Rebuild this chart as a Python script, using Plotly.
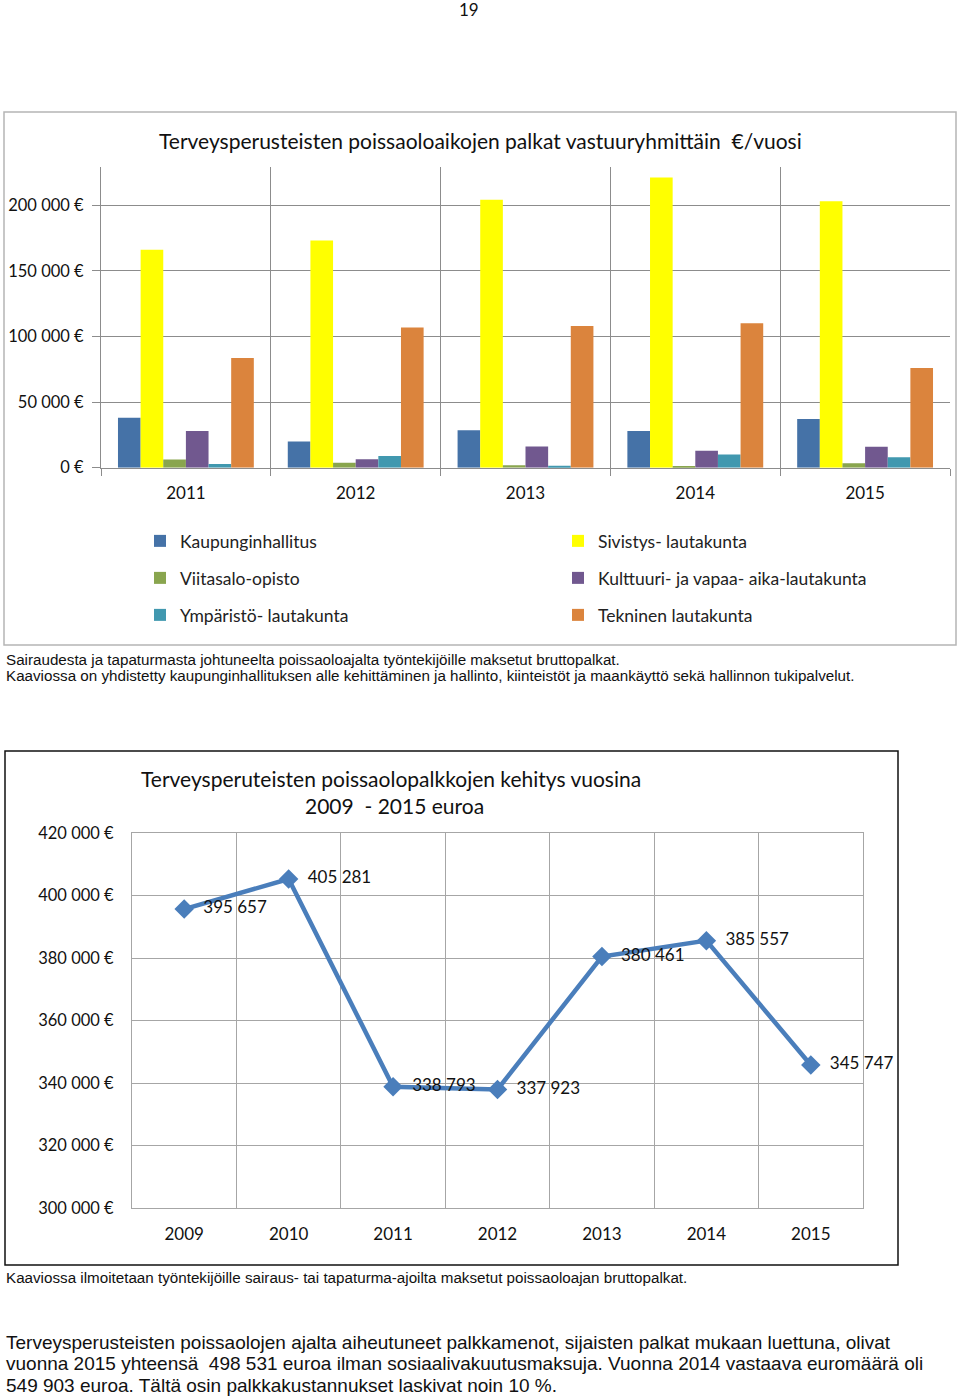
import plotly.graph_objects as go

W, H = 960, 1396

# ---- data: chart 1 ----
years_bar = ["2011", "2012", "2013", "2014", "2015"]
series_names = ["Kaupunginhallitus", "Sivistys- lautakunta", "Viitasalo-opisto",
                "Kulttuuri- ja vapaa- aika-lautakunta", "Ympäristö- lautakunta",
                "Tekninen lautakunta"]
kaupunginhallitus = [38000, 20000, 28500, 28000, 37000]
sivistys = [166000, 173000, 204000, 221000, 203000]
viitasalo = [6300, 3800, 1800, 1300, 3300]
kulttuuri = [28000, 6400, 16200, 13000, 16000]
ymparisto = [2800, 9000, 1500, 10000, 8000]
tekninen = [83500, 106700, 108000, 110000, 76000]
bar_series = [kaupunginhallitus, sivistys, viitasalo, kulttuuri, ymparisto, tekninen]
bar_colors = ["#4572A7", "#FFFF00", "#89A54E", "#71588F", "#4198AF", "#DB843D"]
legend_ids = ["legend", "legend", "legend2", "legend2", "legend3", "legend3"]
bar_ticks = [0, 50000, 100000, 150000, 200000]

# ---- data: chart 2 ----
years_line = ["2009", "2010", "2011", "2012", "2013", "2014", "2015"]
palkat = [395657, 405281, 338793, 337923, 380461, 385557, 345747]
line_ticks = [300000, 320000, 340000, 360000, 380000, 400000, 420000]

FONT = "Lato, Open Sans, sans-serif"
NARROW = "Liberation Sans Narrow, Liberation Sans, Arial, sans-serif"


def eur(v):
    return f"{v:,}".replace(",", " ") + " €"


def px_x(p):
    return p / W


def px_y(p):
    return 1 - p / H


fig = go.Figure()

for name, vals, col, lg in zip(series_names, bar_series, bar_colors, legend_ids):
    fig.add_trace(go.Bar(x=years_bar, y=vals, name=name, marker_color=col,
                         marker_line_width=0, xaxis="x", yaxis="y", legend=lg))

fig.add_trace(go.Scatter(
    x=years_line, y=palkat, mode="lines+markers+text", xaxis="x2", yaxis="y2",
    line=dict(color="#4A7EBB", width=4.5),
    marker=dict(symbol="diamond", size=15, color="#4A7EBB"),
    texttemplate="\u00a0\u00a0%{y:,.0f}", textposition="middle right",
    textfont=dict(family=FONT, size=17, color="#111"),
    showlegend=False, cliponaxis=False))

grid1 = "#8c8c8c"
grid2 = "#a6a6a6"

leg_common = dict(orientation="h", xanchor="left", yanchor="middle",
                  entrywidth=373, entrywidthmode="pixels",
                  font=dict(family=FONT, size=17.5, color="#222"),
                  bgcolor="rgba(0,0,0,0)", x=px_x(140))

fig.update_layout(
    width=W, height=H, margin=dict(l=0, r=0, t=0, b=0, autoexpand=False),
    paper_bgcolor="white", plot_bgcolor="white",
    separators=", ",
    barmode="group", bargap=0.2, bargroupgap=0,
    font=dict(family=FONT, color="#111"),
    legend=dict(leg_common, y=px_y(541)),
    legend2=dict(leg_common, y=px_y(578)),
    legend3=dict(leg_common, y=px_y(615)),
    xaxis=dict(domain=[px_x(101), px_x(950)], type="category",
               range=[-0.5, len(years_bar) - 0.5],
               tickson="boundaries", ticks="outside", ticklen=7, tickcolor=grid1,
               showgrid=True, gridcolor=grid1, gridwidth=1,
               showline=True, linecolor=grid1, linewidth=1,
               tickfont=dict(family=FONT, size=17, color="#111"),
               ticklabelstandoff=10, anchor="y"),
    yaxis=dict(domain=[px_y(467.7), px_y(167)], range=[0, 229000],
               tickvals=bar_ticks, ticktext=[eur(v) for v in bar_ticks],
               ticks="outside", ticklen=8, tickcolor=grid1,
               showgrid=True, gridcolor=grid1, gridwidth=1,
               showline=True, linecolor=grid1, zeroline=False,
               tickfont=dict(family=FONT, size=16.5, color="#111"),
               ticklabelstandoff=5, anchor="x"),
    xaxis2=dict(domain=[px_x(132), px_x(863)], type="category",
                range=[-0.5, len(years_line) - 0.5],
                tickson="boundaries", ticks="",
                showgrid=True, gridcolor=grid2, gridwidth=1,
                showline=True, linecolor=grid2, mirror=True,
                tickfont=dict(family=FONT, size=17, color="#111"),
                ticklabelstandoff=11, anchor="y2"),
    yaxis2=dict(domain=[px_y(1208), px_y(833)], range=[300000, 420000],
                tickvals=line_ticks, ticktext=[eur(v) for v in line_ticks], ticks="",
                showgrid=True, gridcolor=grid2, gridwidth=1,
                showline=True, linecolor=grid2, mirror=True, zeroline=False,
                tickfont=dict(family=FONT, size=16.5, color="#111"),
                ticklabelstandoff=14, anchor="x2"),
)

# frames
fig.add_shape(type="rect", xref="paper", yref="paper",
              x0=px_x(4), x1=px_x(956), y0=px_y(645), y1=px_y(112),
              line=dict(color="#b5b5b5", width=1.5), layer="below")
fig.add_shape(type="rect", xref="paper", yref="paper",
              x0=px_x(5), x1=px_x(898), y0=px_y(1265), y1=px_y(751),
              line=dict(color="#111", width=1.5), layer="below")

ann = []
ann.append(dict(text="19", x=px_x(469), y=px_y(9), xanchor="center", yanchor="middle",
                font=dict(family=FONT, size=17, color="#111")))
ann.append(dict(text="Terveysperusteisten poissaoloaikojen palkat vastuuryhmittäin  €/vuosi",
                x=px_x(480), y=px_y(141), xanchor="center", yanchor="middle",
                font=dict(family=FONT, size=21, color="#111")))
ann.append(dict(text="Sairaudesta ja tapaturmasta johtuneelta poissaoloajalta työntekijöille maksetut bruttopalkat.",
                x=px_x(4), y=px_y(659), xanchor="left", yanchor="middle",
                font=dict(family=NARROW, size=15.2, color="#111")))
ann.append(dict(text="Kaaviossa on yhdistetty kaupunginhallituksen alle kehittäminen ja hallinto, kiinteistöt ja maankäyttö sekä hallinnon tukipalvelut.",
                x=px_x(4), y=px_y(676), xanchor="left", yanchor="middle",
                font=dict(family=NARROW, size=15.2, color="#111")))
ann.append(dict(text="Terveysperuteisten poissaolopalkkojen kehitys vuosina",
                x=px_x(391), y=px_y(778), xanchor="center", yanchor="middle",
                font=dict(family=FONT, size=21, color="#111")))
ann.append(dict(text="2009  - 2015 euroa",
                x=px_x(394), y=px_y(806), xanchor="center", yanchor="middle",
                font=dict(family=FONT, size=21, color="#111")))
ann.append(dict(text="Kaaviossa ilmoitetaan työntekijöille sairaus- tai tapaturma-ajoilta maksetut poissaoloajan bruttopalkat.",
                x=px_x(4), y=px_y(1277), xanchor="left", yanchor="middle",
                font=dict(family=NARROW, size=15.2, color="#111")))
para = ["Terveysperusteisten poissaolojen ajalta aiheutuneet palkkamenot, sijaisten palkat mukaan luettuna, olivat",
        "vuonna 2015 yhteensä  498 531 euroa ilman sosiaalivakuutusmaksuja. Vuonna 2014 vastaava euromäärä oli",
        "549 903 euroa. Tältä osin palkkakustannukset laskivat noin 10 %."]
for i, line in enumerate(para):
    ann.append(dict(text=line, x=px_x(4), y=px_y(1342 + i * 21.5), xanchor="left",
                    yanchor="middle", font=dict(family=NARROW, size=19, color="#111")))

for a in ann:
    a.update(xref="paper", yref="paper", showarrow=False)
fig.update_layout(annotations=ann)

fig.write_html("out.html", config={"displayModeBar": False},
               post_script="document.body.style.margin='0';document.body.style.overflow='hidden';")
